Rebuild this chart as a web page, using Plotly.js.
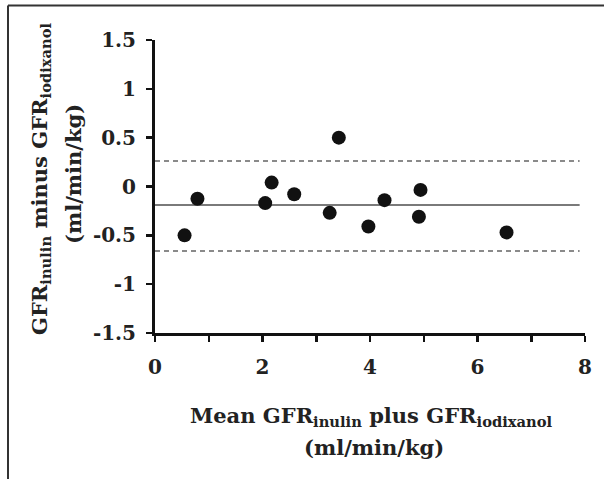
<!DOCTYPE html>
<html>
<head>
<meta charset="utf-8">
<script src="https://cdn.plot.ly/plotly-3.0.1.min.js"></script>
<style>html,body{margin:0;padding:0;background:#fff;}#chart{width:604px;height:479px;}</style>
</head>
<body>
<div id="chart"></div>
<script>
// Bland-Altman data: mean of the two GFR methods (x) vs difference (y)
const meanGFR = [0.55, 0.79, 2.05, 2.17, 2.59, 3.25, 3.42, 3.97, 4.27, 4.94, 4.91, 6.54];
const diffGFR = [-0.50, -0.125, -0.17, 0.04, -0.08, -0.27, 0.50, -0.41, -0.14, -0.035, -0.31, -0.47];
const meanDifference = -0.19;
const upperLimit = 0.26;
const lowerLimit = -0.66;
const lineSpan = [0, 7.9];
const yTickVals = [-1.5, -1, -0.5, 0, 0.5, 1, 1.5];
const yTickText = ['-1.5', '-1', '-0.5', '0', '0.5', '1', '1.5'];
const xTickVals = [0, 2, 4, 6, 8];
const xTickText = ['0', '2', '4', '6', '8'];

const serif = 'DejaVu Serif';

const traces = [
  {x: lineSpan, y: [upperLimit, upperLimit], mode: 'lines', line: {color: '#8a8a8a', width: 2, dash: '5px,4px'}, hoverinfo: 'skip'},
  {x: lineSpan, y: [lowerLimit, lowerLimit], mode: 'lines', line: {color: '#8a8a8a', width: 2, dash: '5px,4px'}, hoverinfo: 'skip'},
  {x: lineSpan, y: [meanDifference, meanDifference], mode: 'lines', line: {color: '#7a7a7a', width: 2}, hoverinfo: 'skip'},
  {x: meanGFR, y: diffGFR, mode: 'markers', marker: {color: '#111', size: 14}, cliponaxis: false}
];

const layout = {
  width: 604, height: 479,
  margin: {l: 155, r: 19, t: 40, b: 146},
  paper_bgcolor: '#fff', plot_bgcolor: '#fff',
  showlegend: false,
  font: {family: serif, color: '#111'},
  xaxis: {
    range: [0, 8], showgrid: false, zeroline: false,
    showline: true, linecolor: '#111', linewidth: 3,
    ticks: 'outside', ticklen: 6, tickwidth: 2.5, tickcolor: '#111',
    tickvals: xTickVals, ticktext: xTickText,
    minor: {dtick: 1, tick0: 0, ticks: 'outside', ticklen: 6, tickwidth: 2.5, tickcolor: '#111'},
    tickfont: {family: serif, size: 20, color: '#222', weight: 'bold'},
    ticklabelstandoff: 8
  },
  yaxis: {
    range: [-1.5, 1.5], showgrid: false, zeroline: false,
    showline: true, linecolor: '#111', linewidth: 3,
    ticks: 'outside', ticklen: 6, tickwidth: 2.5, tickcolor: '#111',
    tickvals: yTickVals, ticktext: yTickText,
    tickfont: {family: serif, size: 20, color: '#222', weight: 'bold'},
    ticklabelstandoff: 6
  },
  annotations: [
    {xref: 'paper', yref: 'paper', x: (40 - 155) / 430, y: (333 - 179) / 293, xanchor: 'center', yanchor: 'middle',
     textangle: -90, showarrow: false,
     text: '<b>GFR<sub>inulin</sub> minus GFR<sub>iodixanol</sub></b>',
     font: {family: serif, size: 21, color: '#222'}},
    {xref: 'paper', yref: 'paper', x: (73 - 155) / 430, y: (333 - 174) / 293, xanchor: 'center', yanchor: 'middle',
     textangle: -90, showarrow: false,
     text: '<b>(ml/min/kg)</b>',
     font: {family: serif, size: 21, color: '#222'}},
    {xref: 'paper', yref: 'paper', x: (371 - 155) / 430, y: (333 - 416) / 293, xanchor: 'center', yanchor: 'middle',
     showarrow: false,
     text: '<b>Mean GFR<sub>inulin</sub> plus GFR<sub>iodixanol</sub></b>',
     font: {family: serif, size: 21, color: '#222'}},
    {xref: 'paper', yref: 'paper', x: (374 - 155) / 430, y: (333 - 447) / 293, xanchor: 'center', yanchor: 'middle',
     showarrow: false,
     text: '<b>(ml/min/kg)</b>',
     font: {family: serif, size: 21, color: '#222'}}
  ],
  shapes: [
    {type: 'line', xref: 'paper', yref: 'paper', x0: (8 - 155) / 430, x1: (604 - 155) / 430, y0: (333 - 5.5) / 293, y1: (333 - 5.5) / 293, line: {color: '#333', width: 2}},
    {type: 'line', xref: 'paper', yref: 'paper', x0: (8 - 155) / 430, x1: (8 - 155) / 430, y0: (333 - 5.5) / 293, y1: (333 - 479) / 293, line: {color: '#333', width: 2}}
  ]
};

Plotly.newPlot('chart', traces, layout, {displayModeBar: false, staticPlot: true});
</script>
</body>
</html>
